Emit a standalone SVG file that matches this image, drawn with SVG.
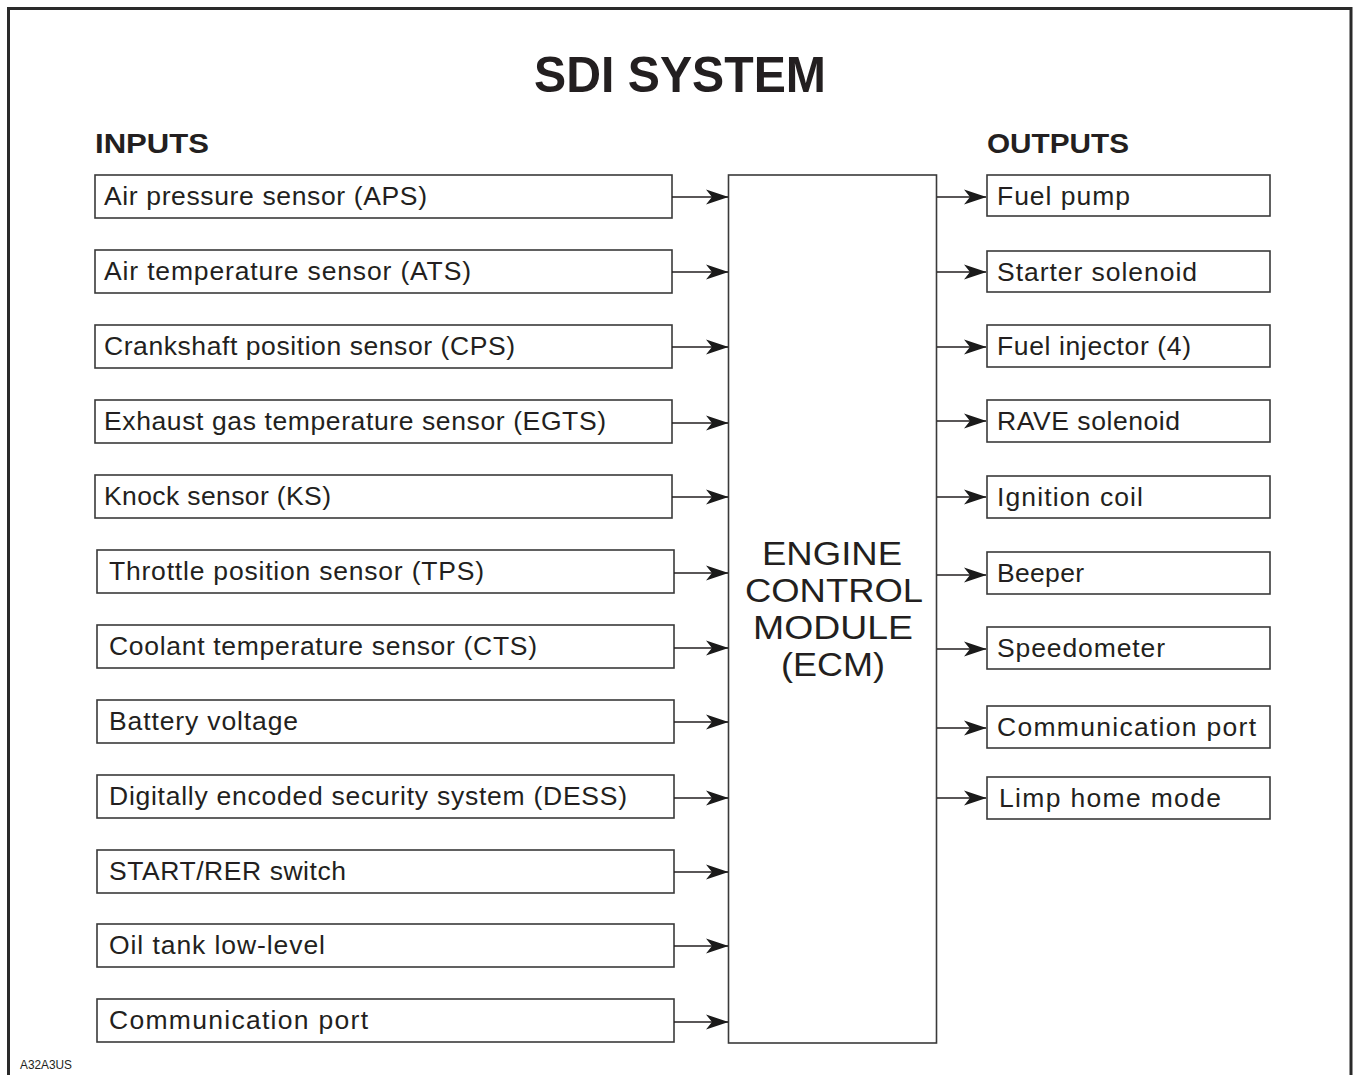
<svg xmlns="http://www.w3.org/2000/svg" width="1355" height="1075" viewBox="0 0 1355 1075">
<defs>
<style>
.box{fill:#fff;stroke:#3a3a3a;stroke-width:1.6}
.t{font-family:"Liberation Sans",Arial,sans-serif;font-size:26.5px;fill:#231f20}
.h{font-family:"Liberation Sans",Arial,sans-serif;font-weight:bold;fill:#231f20}
.ecm{font-family:"Liberation Sans",Arial,sans-serif;font-size:34px;fill:#231f20;text-anchor:middle}
.c{stroke:#231f20;stroke-width:1.6;fill:none;marker-end:url(#ah)}
</style>
<marker id="ah" viewBox="-23 -9 24 18" refX="0" refY="0" markerWidth="24" markerHeight="18" markerUnits="userSpaceOnUse" orient="auto">
<path d="M0.5,0 L-22,-7.5 L-16,0 L-22,7.5 Z" fill="#1a1a1a"/>
</marker>
</defs>
<rect width="1355" height="1075" fill="#fff"/>
<path d="M8.5,1075 V8.5 H1351 V1075" fill="none" stroke="#2a2a2a" stroke-width="3"/>
<text class="h" x="680" y="92" font-size="50" text-anchor="middle" textLength="292" lengthAdjust="spacingAndGlyphs">SDI SYSTEM</text>
<text class="h" x="95" y="153" font-size="27" textLength="114" lengthAdjust="spacingAndGlyphs">INPUTS</text>
<text class="h" x="987" y="153" font-size="27" textLength="142" lengthAdjust="spacingAndGlyphs">OUTPUTS</text>

<g id="in1"><rect class="box" x="95" y="175" width="577" height="43"/><text class="t" x="104" y="205" textLength="323">Air pressure sensor (APS)</text></g>
<g id="in2"><rect class="box" x="95" y="250" width="577" height="43"/><text class="t" x="104" y="280" textLength="367">Air temperature sensor (ATS)</text></g>
<g id="in3"><rect class="box" x="95" y="325" width="577" height="43"/><text class="t" x="104" y="355" textLength="411">Crankshaft position sensor (CPS)</text></g>
<g id="in4"><rect class="box" x="95" y="400" width="577" height="43"/><text class="t" x="104" y="430" textLength="502">Exhaust gas temperature sensor (EGTS)</text></g>
<g id="in5"><rect class="box" x="95" y="475" width="577" height="43"/><text class="t" x="104" y="505" textLength="227">Knock sensor (KS)</text></g>
<g id="in6"><rect class="box" x="97" y="550" width="577" height="43"/><text class="t" x="109" y="580" textLength="375">Throttle position sensor (TPS)</text></g>
<g id="in7"><rect class="box" x="97" y="625" width="577" height="43"/><text class="t" x="109" y="655" textLength="428">Coolant temperature sensor (CTS)</text></g>
<g id="in8"><rect class="box" x="97" y="700" width="577" height="43"/><text class="t" x="109" y="730" textLength="189">Battery voltage</text></g>
<g id="in9"><rect class="box" x="97" y="775" width="577" height="43"/><text class="t" x="109" y="805" textLength="518">Digitally encoded security system (DESS)</text></g>
<g id="in10"><rect class="box" x="97" y="850" width="577" height="43"/><text class="t" x="109" y="880" textLength="237">START/RER switch</text></g>
<g id="in11"><rect class="box" x="97" y="924" width="577" height="43"/><text class="t" x="109" y="954" textLength="216">Oil tank low-level</text></g>
<g id="in12"><rect class="box" x="97" y="999" width="577" height="43"/><text class="t" x="109" y="1029" textLength="259">Communication port</text></g>

<g id="ecm"><rect class="box" x="728.5" y="175" width="208" height="868"/>
<text class="ecm" x="832" y="565" textLength="140" lengthAdjust="spacingAndGlyphs">ENGINE</text>
<text class="ecm" x="834" y="602" textLength="178" lengthAdjust="spacingAndGlyphs">CONTROL</text>
<text class="ecm" x="833" y="639" textLength="160" lengthAdjust="spacingAndGlyphs">MODULE</text>
<text class="ecm" x="833" y="676" textLength="104" lengthAdjust="spacingAndGlyphs">(ECM)</text></g>

<g id="out1"><rect class="box" x="987" y="175" width="283" height="41"/><text class="t" x="997" y="205" textLength="133">Fuel pump</text></g>
<g id="out2"><rect class="box" x="987" y="251" width="283" height="41"/><text class="t" x="997" y="281" textLength="200">Starter solenoid</text></g>
<g id="out3"><rect class="box" x="987" y="325" width="283" height="42"/><text class="t" x="997" y="355" textLength="194">Fuel injector (4)</text></g>
<g id="out4"><rect class="box" x="987" y="400" width="283" height="42"/><text class="t" x="997" y="430" textLength="183">RAVE solenoid</text></g>
<g id="out5"><rect class="box" x="987" y="476" width="283" height="42"/><text class="t" x="997" y="506" textLength="146">Ignition coil</text></g>
<g id="out6"><rect class="box" x="987" y="552" width="283" height="42"/><text class="t" x="997" y="582" textLength="87">Beeper</text></g>
<g id="out7"><rect class="box" x="987" y="627" width="283" height="42"/><text class="t" x="997" y="657" textLength="168">Speedometer</text></g>
<g id="out8"><rect class="box" x="987" y="706" width="283" height="42"/><text class="t" x="997" y="736" textLength="259">Communication port</text></g>
<g id="out9"><rect class="box" x="987" y="777" width="283" height="42"/><text class="t" x="999" y="807" textLength="222">Limp home mode</text></g>

<g id="connectors">
<line class="c" x1="672" y1="197" x2="728" y2="197"/>
<line class="c" x1="672" y1="272" x2="728" y2="272"/>
<line class="c" x1="672" y1="347" x2="728" y2="347"/>
<line class="c" x1="672" y1="423" x2="728" y2="423"/>
<line class="c" x1="672" y1="497" x2="728" y2="497"/>
<line class="c" x1="674" y1="573" x2="728" y2="573"/>
<line class="c" x1="674" y1="648" x2="728" y2="648"/>
<line class="c" x1="674" y1="722" x2="728" y2="722"/>
<line class="c" x1="674" y1="798" x2="728" y2="798"/>
<line class="c" x1="674" y1="872" x2="728" y2="872"/>
<line class="c" x1="674" y1="946" x2="728" y2="946"/>
<line class="c" x1="674" y1="1022" x2="728" y2="1022"/>
<line class="c" x1="937" y1="197" x2="986" y2="197"/>
<line class="c" x1="937" y1="272" x2="986" y2="272"/>
<line class="c" x1="937" y1="347" x2="986" y2="347"/>
<line class="c" x1="937" y1="421" x2="986" y2="421"/>
<line class="c" x1="937" y1="497" x2="986" y2="497"/>
<line class="c" x1="937" y1="575" x2="986" y2="575"/>
<line class="c" x1="937" y1="649" x2="986" y2="649"/>
<line class="c" x1="937" y1="728" x2="986" y2="728"/>
<line class="c" x1="937" y1="798" x2="986" y2="798"/>
</g>
<text x="20" y="1069" font-family="Liberation Sans,Arial,sans-serif" font-size="12" fill="#231f20" textLength="52" lengthAdjust="spacingAndGlyphs">A32A3US</text>
</svg>
